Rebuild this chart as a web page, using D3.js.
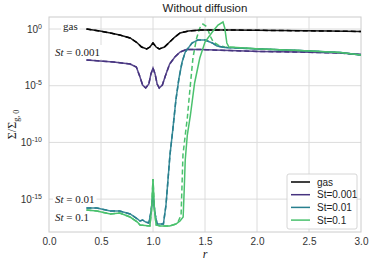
<!DOCTYPE html>
<html>
<head>
<meta charset="utf-8">
<script src="https://cdn.jsdelivr.net/npm/d3@7"></script>
<style>
  body { margin: 0; background: #fff; }
  svg { display: block; font-family: "Liberation Sans", Arial, sans-serif; }
</style>
</head>
<body>
<div id="chart"></div>
<script>
// values, surface density as log10(Sigma/Sigma_g0)
const rGas = [0.36, 0.49, 0.59, 0.68, 0.78, 0.85, 0.89, 0.94, 0.97, 1.0, 1.03, 1.06, 1.11, 1.16, 1.21, 1.26, 1.34, 1.45, 1.74, 2.22, 2.70, 3.0];
const logGas = [0, -0.18, -0.35, -0.53, -0.79, -1.23, -1.59, -1.76, -1.59, -1.23, -1.59, -1.76, -1.59, -1.15, -0.71, -0.35, -0.18, -0.09, -0.09, -0.13, -0.18, -0.22];

const rSt001 = [0.36, 0.62, 0.78, 0.84, 0.875, 0.90, 0.93, 0.96, 0.98, 1.0, 1.02, 1.04, 1.06, 1.09, 1.125, 1.16, 1.21, 1.26, 1.32, 1.45, 1.74, 2.03, 2.41, 2.80, 3.0];
const logSt001 = [-2.73, -2.91, -3.09, -3.35, -4.23, -4.94, -5.20, -4.85, -3.97, -3.44, -3.97, -4.85, -5.20, -4.94, -3.97, -3.09, -2.47, -2.03, -1.81, -1.81, -1.90, -1.98, -2.03, -2.12, -2.25];

const rSt01 = [0.36, 0.46, 0.59, 0.68, 0.78, 0.85, 0.875, 0.90, 0.93, 0.96, 0.98, 1.0, 1.02, 1.04, 1.10, 1.125, 1.144, 1.163, 1.19, 1.22, 1.25, 1.28, 1.31, 1.375, 1.43, 1.50, 1.57, 1.615, 1.69, 2.03, 2.41, 2.80, 3.0];
const logSt01 = [-15.78, -15.78, -16.05, -16.05, -16.31, -16.75, -16.93, -16.84, -17.02, -17.11, -16.14, -14.64, -16.31, -17.20, -17.20, -15.52, -13.32, -11.11, -8.91, -6.26, -4.32, -2.91, -2.03, -1.23, -0.97, -0.97, -1.23, -1.50, -1.63, -1.76, -1.90, -2.07, -2.29];

const rSt1 = [0.36, 0.46, 0.59, 0.68, 0.78, 0.85, 0.875, 0.97, 0.986, 1.0, 1.014, 1.03, 1.07, 1.16, 1.22, 1.26, 1.29, 1.30, 1.31, 1.33, 1.36, 1.40, 1.45, 1.50, 1.57, 1.625, 1.673, 1.69, 1.71, 1.73, 2.03, 2.41, 2.80, 3.0];
const logSt1 = [-15.96, -16.05, -16.31, -16.23, -16.58, -17.02, -17.28, -17.37, -15.96, -13.23, -15.96, -17.28, -17.37, -17.37, -17.20, -16.93, -16.58, -14.20, -11.55, -9.35, -7.58, -4.76, -2.56, -1.15, -0.26, 0.35, 0.62, 0.09, -1.23, -1.59, -1.76, -1.90, -2.07, -2.29];

// dashed St=0.1 curve departs from the solid one around r=1.24
const rSt1Dash = [0.36, 0.46, 0.59, 0.68, 0.78, 0.85, 0.875, 0.97, 0.986, 1.0, 1.014, 1.03, 1.07, 1.16, 1.22, 1.24, 1.27, 1.279, 1.288, 1.31, 1.33, 1.36, 1.385, 1.42, 1.45, 1.48, 1.52, 1.55, 1.58, 1.625, 1.69, 2.03, 2.41, 2.80, 3.0];
const logSt1Dash = [-15.96, -16.05, -16.31, -16.23, -16.58, -17.02, -17.28, -17.37, -15.96, -13.23, -15.96, -17.28, -17.37, -17.37, -17.20, -17.02, -16.40, -13.76, -11.11, -9.35, -7.85, -4.85, -2.47, -0.79, 0.09, 0.44, 0.18, -0.62, -1.15, -1.41, -1.59, -1.76, -1.90, -2.07, -2.29];

const seriesNames = ["gas", "St=0.001", "St=0.01", "St=0.1"];
const seriesColors = ["#000000", "#46337f", "#277f8e", "#4ac16d"];
const xTicks = [0.0, 0.5, 1.0, 1.5, 2.0, 2.5, 3.0];
const yTickExp = [0, -5, -10, -15];

const W = 374, H = 268;
const margin = { top: 17, right: 13, bottom: 36, left: 49 };

const svg = d3.select("#chart").append("svg")
  .attr("width", W)
  .attr("height", H);

const x = d3.scaleLinear().domain([0, 3]).range([margin.left, W - margin.right]);
const y = d3.scaleLog().domain([Math.pow(10, -17.9), Math.pow(10, 1.06)]).range([H - margin.bottom, margin.top]);

const toPts = (rs, ls) => rs.map((r, i) => ({ r: r, v: Math.pow(10, ls[i]) }));

// grid
svg.append("g").selectAll("line")
  .data(xTicks.slice(1, -1))
  .enter().append("line")
  .attr("x1", d => x(d)).attr("x2", d => x(d))
  .attr("y1", margin.top).attr("y2", H - margin.bottom)
  .attr("stroke", "#dcdcdc").attr("stroke-width", 1);

svg.append("g").selectAll("line")
  .data(yTickExp)
  .enter().append("line")
  .attr("x1", margin.left).attr("x2", W - margin.right)
  .attr("y1", d => y(Math.pow(10, d))).attr("y2", d => y(Math.pow(10, d)))
  .attr("stroke", "#dcdcdc").attr("stroke-width", 1);

// frame
svg.append("rect")
  .attr("x", margin.left).attr("y", margin.top)
  .attr("width", W - margin.right - margin.left)
  .attr("height", H - margin.bottom - margin.top)
  .attr("fill", "none").attr("stroke", "#cccccc").attr("stroke-width", 1);

// x tick labels
const xAxis = d3.axisBottom(x).tickValues(xTicks).tickSize(0).tickPadding(6).tickFormat(d3.format(".1f"));
const gx = svg.append("g")
  .attr("transform", `translate(0, ${H - margin.bottom})`)
  .call(xAxis);
gx.select(".domain").remove();
gx.selectAll("text").attr("font-size", 10).attr("fill", "#333").attr("font-family", "Liberation Sans, Arial, sans-serif");

// y tick labels with superscripts
const yLab = svg.append("g").selectAll("text")
  .data(yTickExp)
  .enter().append("text")
  .attr("x", margin.left - 7)
  .attr("y", d => y(Math.pow(10, d)) + 3.5)
  .attr("text-anchor", "end")
  .attr("font-size", 10)
  .attr("fill", "#333");
yLab.append("tspan").text("10");
yLab.append("tspan").attr("dy", -4).attr("font-size", 7).text(d => d === 0 ? "0" : "-" + (-d));

// annotation labels with white boxes behind them
const annot = [
  { x: 63, y: 30, parts: [["gas", false]] },
  { x: 55, y: 56, parts: [["St", true], [" = 0.001", false]] },
  { x: 55, y: 203, parts: [["St", true], [" = 0.01", false]] },
  { x: 55, y: 221, parts: [["St", true], [" = 0.1", false]] }
];
const annG = svg.append("g");
annot.forEach(a => {
  const t = annG.append("text")
    .attr("x", a.x).attr("y", a.y)
    .attr("font-family", "Liberation Serif, serif")
    .attr("font-size", 11)
    .attr("fill", "#222");
  a.parts.forEach(p => t.append("tspan").attr("font-style", p[1] ? "italic" : "normal").text(p[0]));
  const bb = t.node().getBBox();
  annG.insert("rect", "text")
    .attr("x", bb.x - 2).attr("y", bb.y - 1)
    .attr("width", bb.width + 4).attr("height", bb.height + 2)
    .attr("fill", "#fff");
});

// curves
const line = d3.line().x(d => x(d.r)).y(d => y(d.v)).curve(d3.curveLinear);
const plot = svg.append("g");

const solid = [toPts(rGas, logGas), toPts(rSt001, logSt001), toPts(rSt01, logSt01), toPts(rSt1, logSt1)];
const dashed = [toPts(rGas, logGas), toPts(rSt001, logSt001), toPts(rSt01, logSt01), toPts(rSt1Dash, logSt1Dash)];

dashed.forEach((pts, i) => {
  plot.append("path")
    .datum(pts)
    .attr("d", line)
    .attr("fill", "none")
    .attr("stroke", seriesColors[i])
    .attr("stroke-width", 1.5)
    .attr("stroke-dasharray", "5,3");
});
solid.forEach((pts, i) => {
  if (i === 3) return;
  plot.append("path")
    .datum(pts)
    .attr("d", line)
    .attr("fill", "none")
    .attr("stroke", seriesColors[i])
    .attr("stroke-width", 1.5)
    .attr("stroke-opacity", 0.9);
});
plot.append("path")
  .datum(solid[3])
  .attr("d", line)
  .attr("fill", "none")
  .attr("stroke", seriesColors[3])
  .attr("stroke-width", 1.5);

// title & axis labels
svg.append("text")
  .attr("x", (margin.left + W - margin.right) / 2)
  .attr("y", 12)
  .attr("text-anchor", "middle")
  .attr("font-size", 11.5)
  .attr("fill", "#222")
  .text("Without diffusion");

svg.append("text")
  .attr("x", (margin.left + W - margin.right) / 2)
  .attr("y", 258)
  .attr("text-anchor", "middle")
  .attr("font-family", "Liberation Serif, serif")
  .attr("font-style", "italic")
  .attr("font-size", 12)
  .attr("fill", "#222")
  .text("r");

const yl = svg.append("text")
  .attr("transform", `translate(16, ${(margin.top + H - margin.bottom) / 2}) rotate(-90)`)
  .attr("text-anchor", "middle")
  .attr("font-family", "Liberation Serif, serif")
  .attr("font-size", 12)
  .attr("fill", "#222");
yl.append("tspan").text("Σ/Σ");
yl.append("tspan").attr("dy", 3).attr("font-size", 8).text("g, 0");

// legend
const lg = svg.append("g").attr("transform", "translate(287, 174)");
lg.append("rect")
  .attr("width", 70).attr("height", 55)
  .attr("rx", 2)
  .attr("fill", "#fff").attr("fill-opacity", 0.85)
  .attr("stroke", "#cccccc").attr("stroke-width", 0.8);
seriesNames.forEach((name, i) => {
  const yy = 8 + i * 12.7;
  lg.append("line")
    .attr("x1", 4).attr("x2", 23)
    .attr("y1", yy).attr("y2", yy)
    .attr("stroke", seriesColors[i])
    .attr("stroke-width", 1.5);
  lg.append("text")
    .attr("x", 30).attr("y", yy + 3.5)
    .attr("font-size", 10)
    .attr("fill", "#222")
    .text(name);
});
</script>
</body>
</html>
